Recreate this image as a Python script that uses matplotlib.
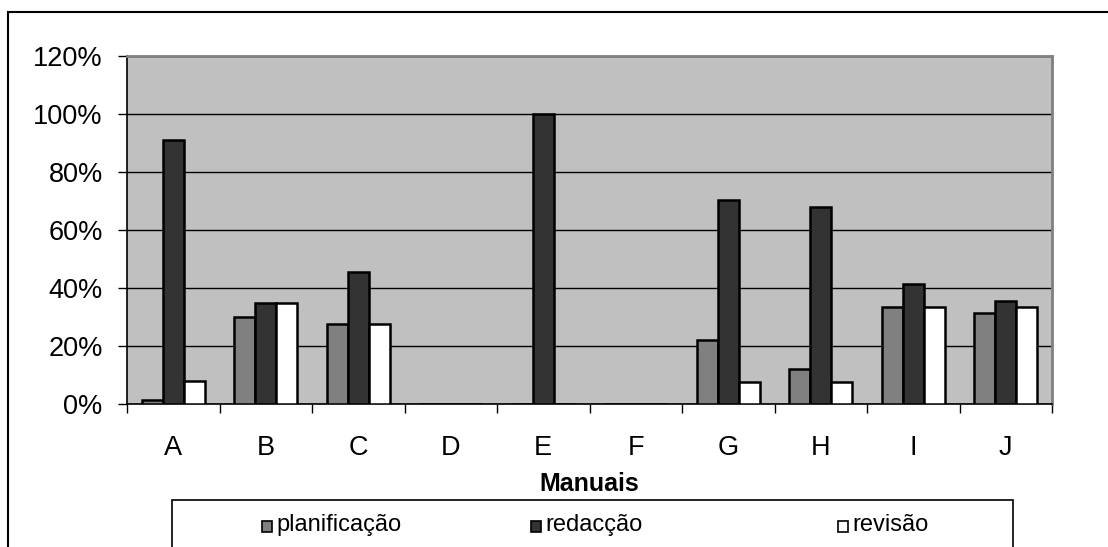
import numpy as np
import matplotlib.pyplot as plt
from matplotlib.patches import Rectangle
from matplotlib.ticker import PercentFormatter, FixedLocator

plt.rcParams['font.family'] = ['Liberation Sans', 'DejaVu Sans']

# Dados por manual
manuais = ["A", "B", "C", "D", "E", "F", "G", "H", "I", "J"]
planificacao = [0.014, 0.30, 0.275, 0.0, 0.0, 0.0, 0.22, 0.12, 0.335, 0.315]
redaccao = [0.91, 0.35, 0.455, 0.0, 1.0, 0.0, 0.705, 0.68, 0.415, 0.355]
revisao = [0.08, 0.35, 0.275, 0.0, 0.0, 0.0, 0.075, 0.075, 0.335, 0.335]

series = [
    ("planificação", planificacao, "#808080"),
    ("redacção", redaccao, "#333333"),
    ("revisão", revisao, "#ffffff"),
]

W, H = 1108, 547
fig = plt.figure(figsize=(W / 100, H / 100), dpi=100)
ax = fig.add_axes([127 / W, 1 - 404 / H, 925 / W, 348 / H])

x = np.arange(len(manuais))
largura = 0.227

for i, (nome, valores, cor) in enumerate(series):
    ax.bar(x + (i - 1) * largura, valores, largura, color=cor,
           edgecolor="black", linewidth=1.8, label=nome, zorder=3)

ax.set_facecolor("#c0c0c0")
ax.set_xlim(-0.5, len(manuais) - 0.5)
ax.set_ylim(0, 1.2)
ax.yaxis.set_major_locator(FixedLocator(np.arange(0, 1.21, 0.2)))
ax.yaxis.set_major_formatter(PercentFormatter(1.0, decimals=0))
ax.grid(axis="y", color="black", linewidth=1.0, zorder=1)

ax.set_xticks(x)
ax.set_xticklabels(manuais)
ax.set_xticks(np.arange(-0.5, len(manuais)), minor=True)
ax.tick_params(axis="x", which="major", length=0, pad=22, labelsize=19.5)
ax.tick_params(axis="x", which="minor", length=6.5, width=1, color="black", direction="out")
ax.tick_params(axis="y", length=6.5, width=1, pad=11, labelsize=19.5, direction="out")

for lado in ["top", "right"]:
    ax.spines[lado].set_color("#808080")
    ax.spines[lado].set_linewidth(2)
for lado in ["left", "bottom"]:
    ax.spines[lado].set_color("black")
    ax.spines[lado].set_linewidth(1.2)

ax.set_xlabel("Manuais", fontsize=18, fontweight="bold", labelpad=8)


def fx(v):
    return v / W


def fy(v):
    return 1 - v / H


# Moldura exterior do gráfico
fig.add_artist(Rectangle((fx(8), fy(560)), fx(1120) - fx(8), fy(12) - fy(560),
                         transform=fig.transFigure, fill=False,
                         edgecolor="black", linewidth=1.5))

# Legenda
fig.add_artist(Rectangle((fx(172), fy(560)), fx(1013) - fx(172), fy(500) - fy(560),
                         transform=fig.transFigure, fill=False,
                         edgecolor="black", linewidth=1.2))
posicoes = [262, 531, 838]
for (nome, valores, cor), xp in zip(series, posicoes):
    fig.add_artist(Rectangle((fx(xp), fy(532)), 10 / W, 11 / H,
                             transform=fig.transFigure, facecolor=cor,
                             edgecolor="black", linewidth=1.2))
    fig.text(fx(xp + 14), fy(525), nome, fontsize=17, va="center", ha="left")

fig.savefig("out.png", dpi=100)
